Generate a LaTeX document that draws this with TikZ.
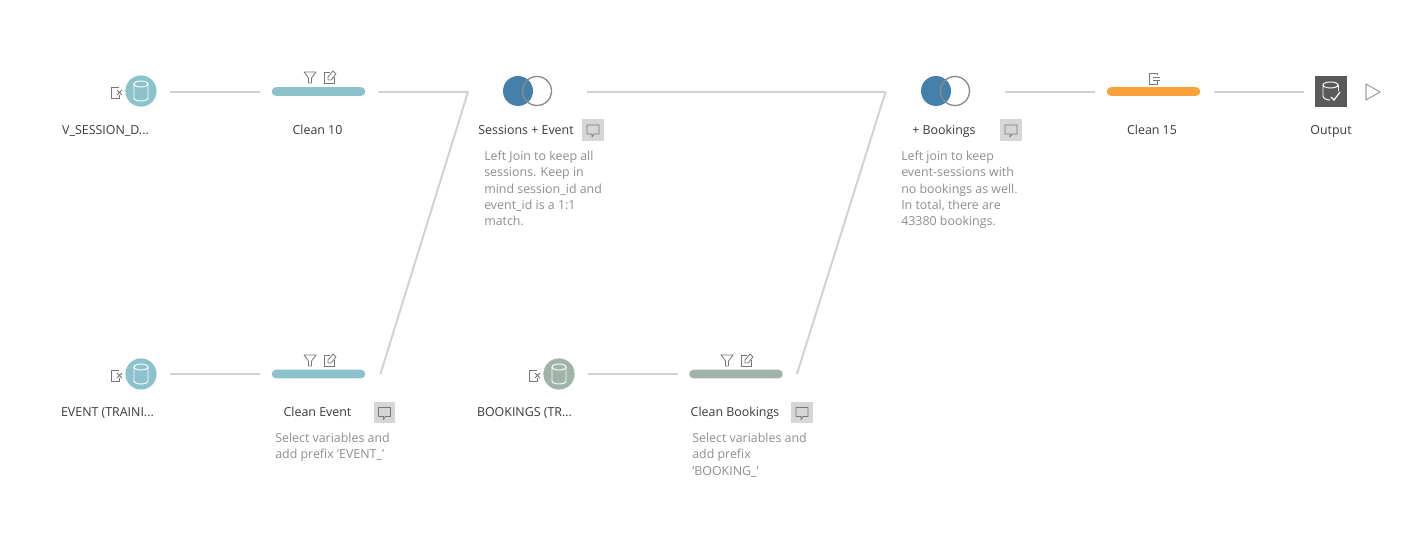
\documentclass[tikz,border=0pt]{standalone}
\usepackage{fontspec}
\setmainfont{Open Sans}
\usetikzlibrary{calc}
\definecolor{teal}{HTML}{8CC2CC}
\definecolor{sage}{HTML}{9FB3A9}
\definecolor{joinblue}{HTML}{4480A9}
\definecolor{ringgrey}{HTML}{8A8A8A}
\definecolor{wire}{HTML}{D2D2D2}
\definecolor{amber}{HTML}{F9A23A}
\definecolor{iconink}{HTML}{777777}
\definecolor{labelink}{HTML}{3A3A3A}
\definecolor{noteink}{HTML}{8F8F8F}
\definecolor{chip}{HTML}{D6D6D6}
\definecolor{darkbox}{HTML}{5A5A5A}
\tikzset{
  x=0.75pt,y=-0.75pt,
  wirestyle/.style={draw=wire,line width=1.5pt,line join=round},
  sourcenode/.style={circle,minimum size=23.4pt,inner sep=0pt,fill=#1},
  barnode/.style={rounded corners=3pt,minimum width=70pt,minimum height=6.4pt,inner sep=0pt,fill=#1},
  label/.style={font=\fontsize{9.3}{10}\selectfont,text=labelink,inner sep=0pt,anchor=base},
  notetext/.style={font=\fontsize{9.3}{12.15}\selectfont,text=noteink,align=left,anchor=north west,inner sep=0pt},
  chipnode/.style={fill=chip,minimum size=16.2pt,inner sep=0pt},
  pics/cyl/.style={code={
    \draw[#1,line width=0.7pt] (-7,-7) -- (-7,7) arc[start angle=180,end angle=0,x radius=7,y radius=3] -- (7,-7);
    \draw[#1,line width=0.7pt] (0,-7) ellipse[x radius=7,y radius=3];
  }},
  pics/srcmark/.style={code={
    \draw[iconink,line width=0.6pt] (3,-5) -- (-5,-5) -- (-5,6) -- (3,6) -- (3,3);
    \draw[iconink,line width=0.6pt] (1,-2) -- (6,3) (6,-2) -- (1,3);
  }},
  pics/funnel/.style={code={
    \draw[iconink,line width=0.6pt,line join=round] (-6,-5) -- (6,-5) -- (1.5,1) -- (1.5,6) -- (-1.5,6) -- (-1.5,1) -- cycle;
  }},
  pics/editmark/.style={code={
    \draw[iconink,line width=0.6pt] (1,-5) -- (-5,-5) -- (-5,6) -- (5,6) -- (5,0);
    \draw[iconink,line width=0.6pt,line join=round] (-1,3) -- (-1,0) -- (4,-6) -- (7,-3) -- (2,3) -- cycle;
  }},
  pics/outmark/.style={code={
    \draw[iconink,line width=0.6pt] (3,-3) -- (3,-5) -- (-5,-5) -- (-5,6) -- (3,6) -- (3,3);
    \draw[iconink,line width=0.6pt] (-1,-1) -- (6,-1) (-1,2) -- (6,2);
  }},
  pics/bubble/.style={code={
    \draw[iconink,line width=0.6pt,line join=round] (-6,-5) -- (6,-5) -- (6,4) -- (1,4) -- (-1,7) -- (-1,4) -- (-6,4) -- cycle;
  }},
  pics/joinpair/.style={code={
    \fill[joinblue] (0,0) circle[radius=15];
    \draw[ringgrey,line width=1pt] (19,0) circle[radius=14.5];
  }},
}
\begin{document}
\begin{tikzpicture}
\useasboundingbox (0,0) rectangle (1420,534);
\fill[white] (0,0) rectangle (1420,534);

% sources
\node[sourcenode=teal] (src1) at (141,91) {};
\node[sourcenode=teal] (src2) at (141,374) {};
\node[sourcenode=sage] (src3) at (559,374) {};
\pic at (src1) {cyl=white};
\pic at (src2) {cyl=white};
\pic at (src3) {cyl=white};
\pic at (116,92) {srcmark};
\pic at (116,375) {srcmark};
\pic at (534,375) {srcmark};

% clean steps
\node[barnode=teal] (clean10) at (318.5,91.5) {};
\node[barnode=teal] (cleanE) at (318.5,374) {};
\node[barnode=sage] (cleanB) at (736,374) {};
\node[barnode=amber] (clean15) at (1153.5,91.5) {};
\pic at (310,77) {funnel};
\pic at (329,77) {editmark};
\pic at (310,360) {funnel};
\pic at (329,360) {editmark};
\pic at (727,360) {funnel};
\pic at (746,360) {editmark};
\pic at (1154,78) {outmark};

% joins
\coordinate (join1) at (518,91);
\coordinate (join2) at (936,91);
\pic at (join1) {joinpair};
\pic at (join2) {joinpair};
\coordinate (bend1) at (468,92);
\coordinate (bend2) at (885.5,92);

% output
\node[fill=darkbox,minimum size=23.6pt,inner sep=0pt] (output) at (1331,91.5) {};
\draw[white,line width=0.7pt] (1323,85) -- (1323,96) arc[start angle=180,end angle=90,x radius=7,y radius=4];
\draw[white,line width=0.7pt] (1338,85) -- (1338,91);
\draw[white,line width=0.7pt] (1330.5,85) ellipse[x radius=7.5,y radius=3];
\draw[white,line width=0.9pt] (1331,97) -- (1334,100) -- (1340,92);
\draw[ringgrey!80,line width=0.8pt,line join=round] (1366,84) -- (1380,92) -- (1366,100) -- cycle;

% connectors
\draw[wirestyle] ($(src1.east)+(13,1)$) -- ($(clean10.west)+(-12,0.5)$);
\draw[wirestyle] ($(src2.east)+(13,0)$) -- ($(cleanE.west)+(-12,0)$);
\draw[wirestyle] ($(src3.east)+(13,0)$) -- ($(cleanB.west)+(-11,0)$);
\draw[wirestyle] ($(clean10.east)+(13,0.5)$) -- (bend1) -- ($(cleanE.east)+(15,0)$);
\draw[wirestyle] ($(join1)+(69,1)$) -- (bend2) -- ($(cleanB.east)+(14,0)$);
\draw[wirestyle] ($(join2)+(69,1)$) -- ($(clean15.west)+(-12,0.5)$);
\draw[wirestyle] ($(clean15.east)+(14,0.5)$) -- ($(output.west)+(-11,0.5)$);

% labels
\node[label] (l1) at (105.5,134.5) {V\_SESSION\_D...};
\node[label] (l2) at (317.5,134.5) {Clean 10};
\node[label] (l3) at (526,134.5) {Sessions + Event};
\node[label] (l4) at (944,134.5) {+ Bookings};
\node[label] (l5) at (1152,134.5) {Clean 15};
\node[label] (l6) at (1331,134.5) {Output};
\node[label] (l7) at (107.5,416.5) {EVENT (TRAINI...};
\node[label] (l8) at (317.5,416.5) {Clean Event};
\node[label] (l9) at (524.5,416.5) {BOOKINGS (TR...};
\node[label] (l10) at (735,416.5) {Clean Bookings};

% comment chips
\node[chipnode] (c1) at (593,130) {};
\node[chipnode] (c2) at (1011,130) {};
\node[chipnode] (c3) at (384.5,412.5) {};
\node[chipnode] (c4) at (802,412.5) {};
\pic at (c1) {bubble};
\pic at (c2) {bubble};
\pic at (c3) {bubble};
\pic at (c4) {bubble};

% notes
\node[notetext] (n1) at (484,151) {Left Join to keep all\\sessions. Keep in\\mind session\_id and\\event\_id is a 1:1\\match.};
\node[notetext] (n2) at (901,151) {Left join to keep\\event-sessions with\\no bookings as well.\\In total, there are\\43380 bookings.};
\node[notetext] (n3) at (275,433) {Select variables and\\add prefix 'EVENT\_'};
\node[notetext] (n4) at (692,433) {Select variables and\\add prefix\\'BOOKING\_'};
\end{tikzpicture}
\end{document}
